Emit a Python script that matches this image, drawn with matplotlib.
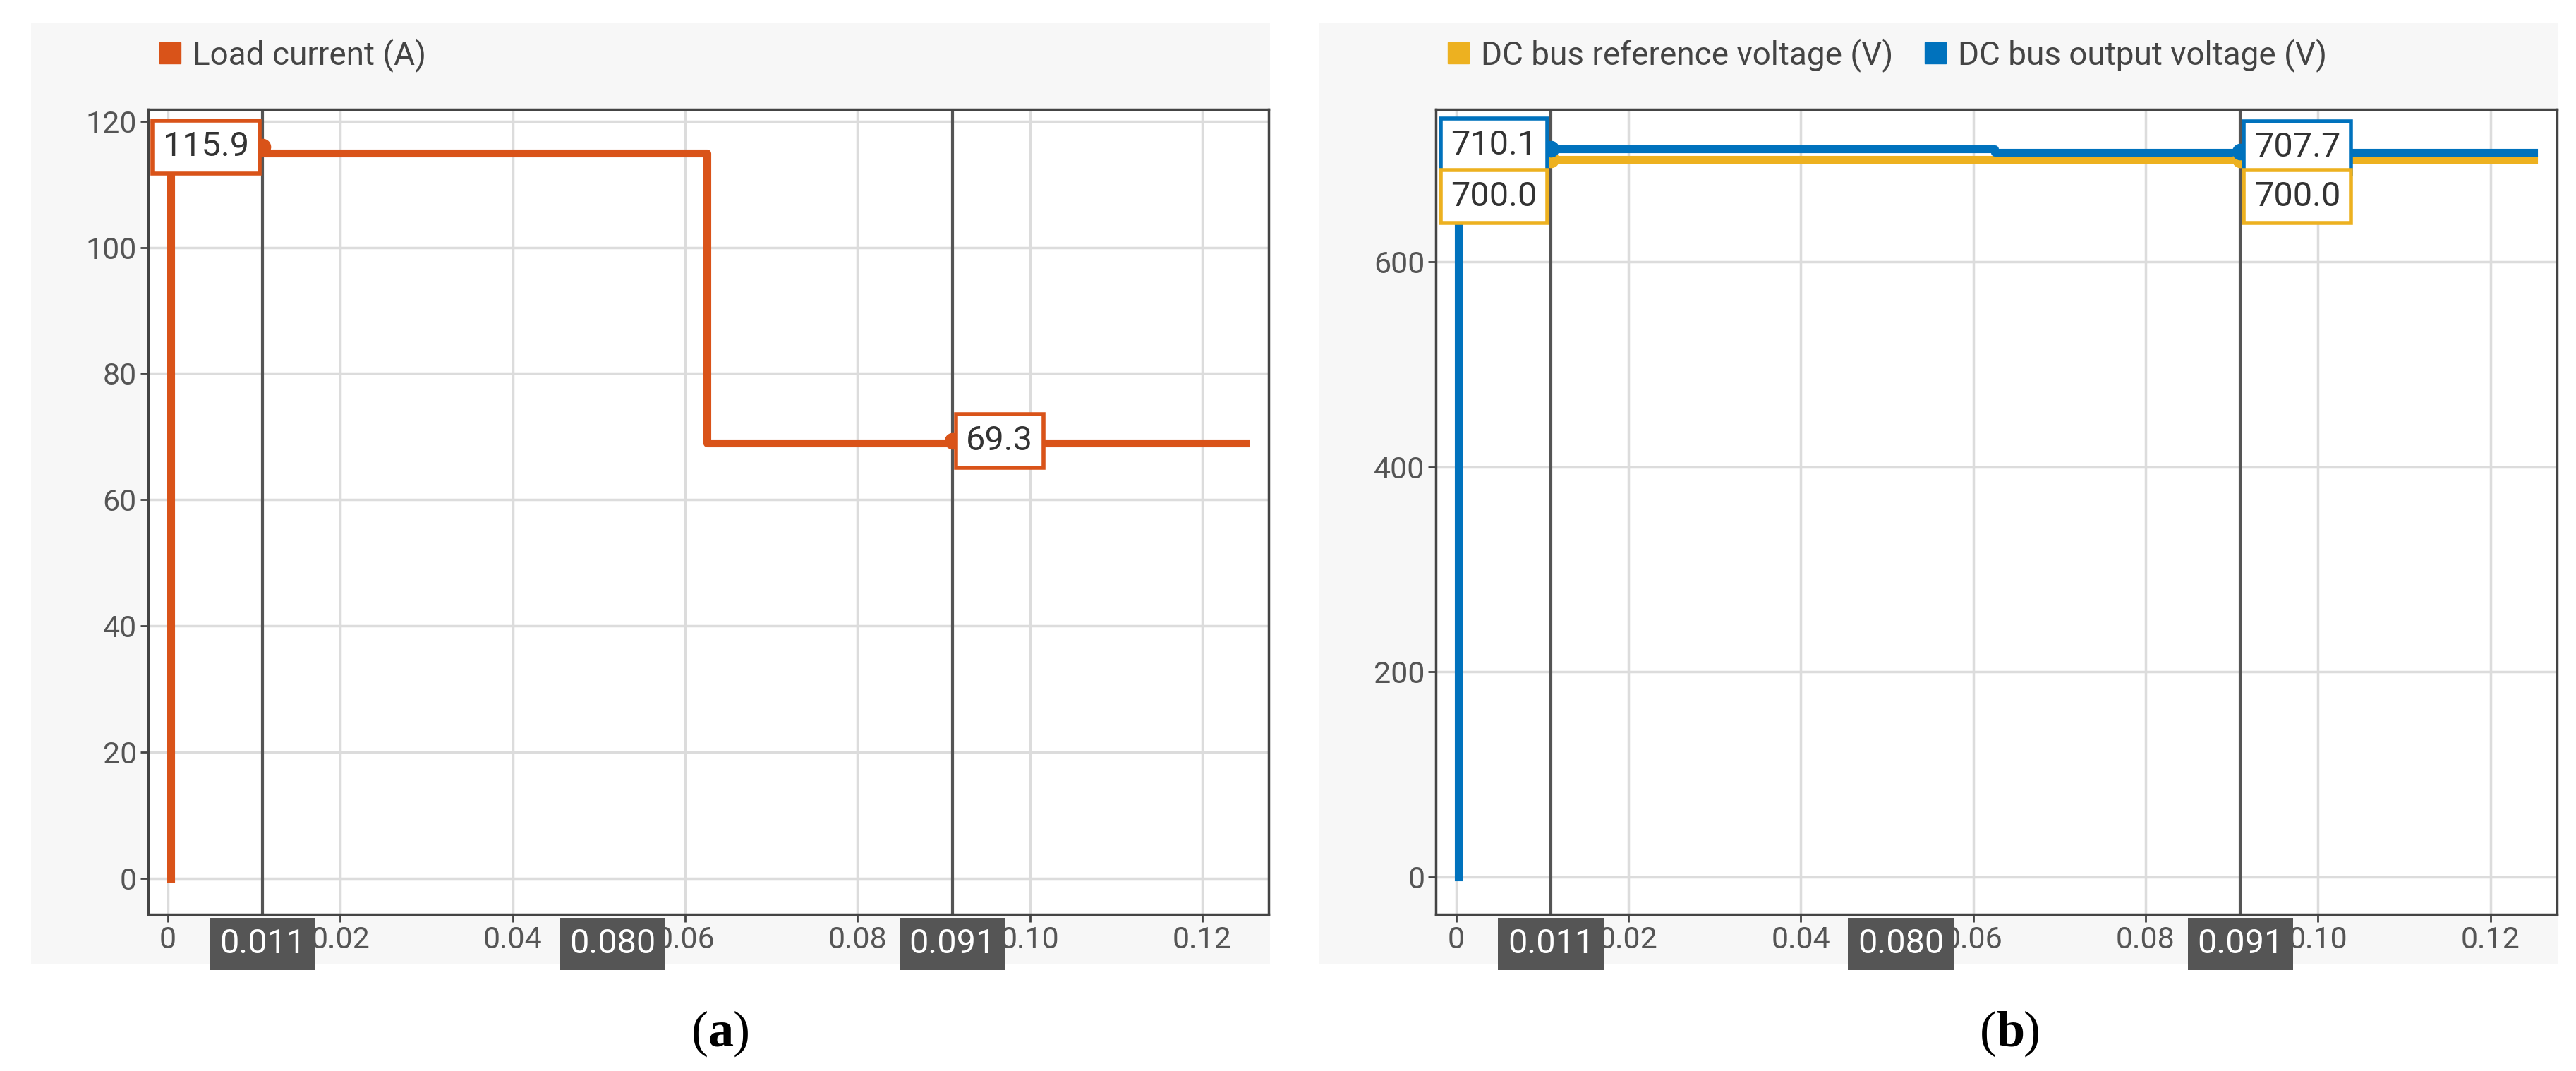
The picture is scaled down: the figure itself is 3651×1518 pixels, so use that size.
import matplotlib
matplotlib.use("Agg")
import matplotlib.pyplot as plt
from matplotlib.lines import Line2D
import numpy as np

t_cur = [0.0003, 0.0003, 0.0625, 0.0625, 0.125]
i_load = [0.0, 115.0, 115.0, 69.0, 69.0]
t_v = [0.0003, 0.0003, 0.0625, 0.0625, 0.125]
v_out = [0.0, 710.0, 710.0, 707.0, 707.0]
t_ref = [0.0003, 0.125]
v_ref = [700.0, 700.0]
cursors = [0.011, 0.091]
cursor_box_labels = ["0.011", "0.080", "0.091"]
cursor_box_pos = [0.011, 0.0516, 0.091]
cur_marks = [115.9, 69.3]
v_marks_out = [710.1, 707.7]
v_marks_ref = [700.0, 700.0]

ORANGE = "#D95319"
BLUE = "#0072BD"
YELLOW = "#EDB120"
FONT = "Roboto"

fig = plt.figure(figsize=(36.51, 15.18), dpi=100)

def panel(x0, caption):
    bg = fig.add_axes([x0 - 0.0455, 0.10, 0.481, 0.879])
    bg.set_facecolor("#f7f7f7"); bg.set_xticks([]); bg.set_yticks([])
    for s in bg.spines.values(): s.set_visible(False)
    bg.set_zorder(0)
    ax = fig.add_axes([x0, 0.146, 0.435, 0.752])
    ax.set_zorder(1)
    ax.set_facecolor("white")
    ax.grid(True, color="#dcdcdc", lw=2.5)
    ax.set_axisbelow(True)
    for s in ax.spines.values():
        s.set_color("#444444"); s.set_linewidth(2.5)
    ax.tick_params(labelsize=31, length=8, width=2, color="#444444", labelcolor="#555555")
    for lab in ax.get_yticklabels():
        lab.set_family(FONT)
    ax.set_xlim(-0.0023, 0.1277)
    ax.set_xticks([0, 0.02, 0.04, 0.06, 0.08, 0.10, 0.12])
    ax.set_xticklabels(["0", "0.02", "0.04", "0.06", "0.08", "0.10", "0.12"], family=FONT)
    for c in cursors:
        ax.axvline(c, color="#555555", lw=3, zorder=2)
    for lab, p in zip(cursor_box_labels, cursor_box_pos):
        ax.annotate(lab, xy=(p, 0), xycoords=("data", "axes fraction"), xytext=(0, -30),
                    textcoords="offset points", ha="center", va="center", fontsize=35,
                    family=FONT, color="white", zorder=10, annotation_clip=False,
                    bbox=dict(boxstyle="square,pad=0.28", fc="#555555", ec="none"))
    fig.text(x0 + 0.2175, 0.035, "(", ha="right", va="center", fontsize=52, family="Liberation Serif")
    fig.text(x0 + 0.2175, 0.035, caption, ha="left", va="center", fontsize=52,
             family="Liberation Serif", weight="bold")
    fig.text(x0 + 0.2175 + (0.0095 if caption == "a" else 0.0105), 0.035, ")", ha="left",
             va="center", fontsize=52, family="Liberation Serif")
    return ax

def box(ax, x, y, text, color, dx=0, dy=0, ha="left"):
    ax.annotate(text, xy=(x, y), xytext=(dx, dy), textcoords="offset points", ha=ha, va="center",
                fontsize=35, family=FONT, color="#333333", zorder=12,
                bbox=dict(boxstyle="square,pad=0.3", fc="white", ec=color, lw=4))

def sq(color):
    return Line2D([], [], ls="none", marker="s", ms=22, color=color)

leg_kw = dict(loc="lower left", bbox_to_anchor=(-0.015, 1.01), frameon=False, handlelength=0.6,
              handletextpad=0.4, prop={"family": FONT, "size": 33}, labelcolor="#444444")

# (a)
ax1 = panel(0.0575, "a")
ax1.set_ylim(-5.8, 121.9)
ax1.set_yticks([0, 20, 40, 60, 80, 100, 120])
ax1.plot(t_cur, i_load, color=ORANGE, lw=8, zorder=5)
ax1.plot(cursors, cur_marks, "o", color=ORANGE, ms=16, zorder=6)
box(ax1, 0.011, cur_marks[0], f"{cur_marks[0]:.1f}", ORANGE, dx=-14, ha="right")
box(ax1, 0.091, cur_marks[1], f"{cur_marks[1]:.1f}", ORANGE, dx=14)
ax1.legend([sq(ORANGE)], ["Load current (A)"], **leg_kw)

# (b)
ax2 = panel(0.5575, "b")
ax2.set_ylim(-37, 749)
ax2.set_yticks([0, 200, 400, 600])
ax2.plot(t_ref, v_ref, color=YELLOW, lw=8, zorder=4)
ax2.plot(t_v, v_out, color=BLUE, lw=8, zorder=5)
ax2.plot(cursors, v_marks_ref, "o", color=YELLOW, ms=16, zorder=6)
ax2.plot(cursors, v_marks_out, "o", color=BLUE, ms=16, zorder=7)
box(ax2, 0.011, 710.1, "710.1", BLUE, dx=-14, dy=4, ha="right")
box(ax2, 0.011, 700.0, "700.0", YELLOW, dx=-14, dy=-38, ha="right")
box(ax2, 0.091, 707.7, "707.7", BLUE, dx=14, dy=4)
box(ax2, 0.091, 700.0, "700.0", YELLOW, dx=14, dy=-38)
ax2.legend([sq(YELLOW), sq(BLUE)], ["DC bus reference voltage (V)", "DC bus output voltage (V)"],
           ncol=2, columnspacing=1.0, **leg_kw)

fig.savefig("out.png", dpi=100, facecolor="white")
